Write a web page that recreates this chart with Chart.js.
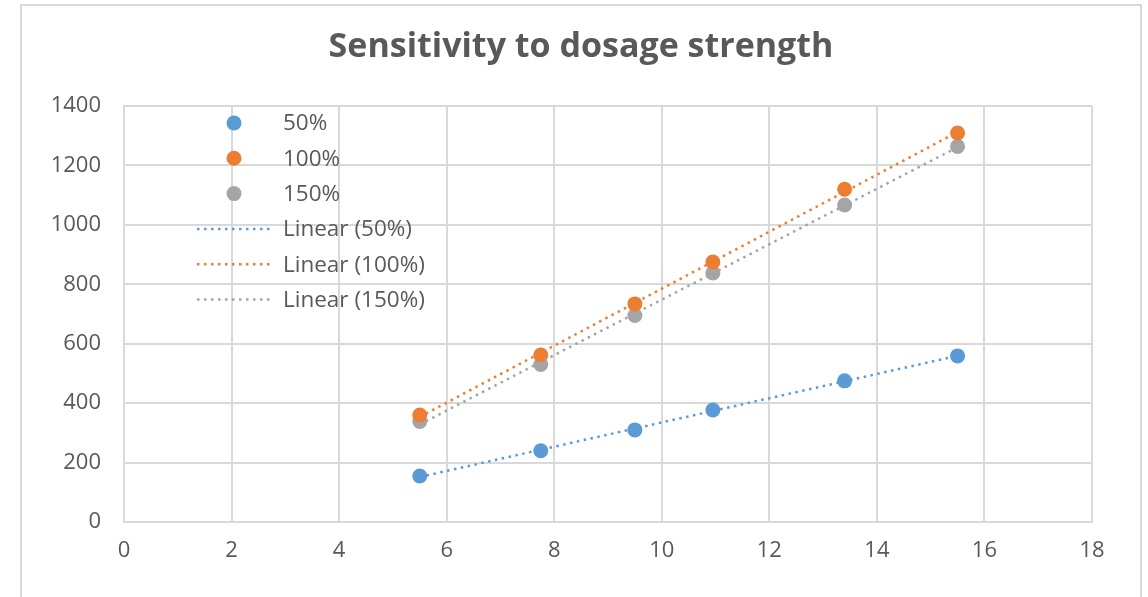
<!DOCTYPE html>
<html>
<head>
<meta charset="utf-8">
<script src="https://cdn.jsdelivr.net/npm/chart.js@4"></script>
<style>
html,body{margin:0;padding:0;background:#fff;}
#wrap{width:1148px;height:597px;position:relative;}
</style>
</head>
<body>
<div id="wrap"><canvas id="c" width="1148" height="597"></canvas></div>
<script>
// ---- data ----
const titleText = "Sensitivity to dosage strength";
const xValues = [5.5, 7.75, 9.5, 10.95, 13.4, 15.5];
const series50 = [155, 240, 310, 377, 475, 559];
const series100 = [360, 562, 734, 875, 1120, 1309];
const series150 = [338, 530, 695, 838, 1067, 1264];
const seriesLabels = ["50%", "100%", "150%"];
const trendLabels = ["Linear (50%)", "Linear (100%)", "Linear (150%)"];
const xTicks = [0, 2, 4, 6, 8, 10, 12, 14, 16, 18];
const yTicks = [0, 200, 400, 600, 800, 1000, 1200, 1400];

const colors = ["#5B9BD5", "#ED7D31", "#A5A5A5"];
const allSeries = [series50, series100, series150];

function pts(ys){ return xValues.map((x,i)=>({x:x, y:ys[i]})); }
function trend(ys){
  const n = xValues.length;
  let sx=0, sy=0, sxx=0, sxy=0;
  for(let i=0;i<n;i++){ sx+=xValues[i]; sy+=ys[i]; sxx+=xValues[i]*xValues[i]; sxy+=xValues[i]*ys[i]; }
  const b = (n*sxy - sx*sy)/(n*sxx - sx*sx);
  const a = (sy - b*sx)/n;
  const x0 = Math.min(...xValues), x1 = Math.max(...xValues);
  return [{x:x0, y:a+b*x0}, {x:x1, y:a+b*x1}];
}

const datasets = [];
allSeries.forEach((s,i)=>{
  datasets.push({
    type:'scatter', label: seriesLabels[i], data: pts(s),
    backgroundColor: colors[i], borderColor: colors[i],
    pointRadius: 7.5, pointHoverRadius: 7.5, borderWidth: 0, order: 2
  });
});
allSeries.forEach((s,i)=>{
  datasets.push({
    type:'line', label: trendLabels[i], data: trend(s),
    borderColor: colors[i], backgroundColor: colors[i],
    borderWidth: 2.5, borderDash: [2.5, 4.5], pointRadius: 0, fill:false, order: 1
  });
});

const fontFamily = "'Open Sans', sans-serif";
const textColor = "#595959";
const gridColor = "#d9d9d9";

const frame = {
  id: 'frame',
  beforeDraw(chart){
    const ctx = chart.ctx;
    ctx.save();
    ctx.fillStyle = '#fff';
    ctx.fillRect(0,0,chart.width,chart.height);
    ctx.strokeStyle = '#d9d9d9';
    ctx.lineWidth = 2;
    ctx.strokeRect(21, 5, 1120, 600);
    ctx.restore();
  },
  afterDraw(chart){
    // chart title, centred over the plot frame
    const ctx = chart.ctx;
    ctx.save();
    ctx.font = "700 34px " + fontFamily;
    ctx.fillStyle = textColor;
    ctx.textAlign = 'center';
    ctx.textBaseline = 'middle';
    ctx.fillText(titleText, 581, 47);
    ctx.restore();
  }
};

const insideLegend = {
  id: 'insideLegend',
  afterDatasetsDraw(chart){
    const ctx = chart.ctx, area = chart.chartArea;
    const mx = area.left + 110, tx = area.left + 159;
    let y = area.top + 17;
    ctx.save();
    ctx.font = "22.5px " + fontFamily;
    ctx.textBaseline = 'middle';
    chart.data.datasets.forEach(ds=>{
      if(ds.type === 'scatter'){
        ctx.fillStyle = ds.backgroundColor;
        ctx.beginPath(); ctx.arc(mx, y, 7.5, 0, Math.PI*2); ctx.fill();
      } else {
        ctx.strokeStyle = ds.borderColor;
        ctx.lineWidth = ds.borderWidth;
        ctx.setLineDash(ds.borderDash);
        ctx.beginPath(); ctx.moveTo(mx-37, y); ctx.lineTo(mx+36, y); ctx.stroke();
        ctx.setLineDash([]);
      }
      ctx.fillStyle = textColor;
      ctx.fillText(ds.label, tx, y+1);
      y += 35.3;
    });
    ctx.restore();
  }
};

new Chart(document.getElementById('c'), {
  type: 'scatter',
  data: { datasets },
  plugins: [frame, insideLegend],
  options: {
    responsive: false,
    animation: false,
    layout: { padding: { left: 20, right: 56, top: 106, bottom: 0 } },
    plugins: {
      legend: { display: false },
      tooltip: { enabled: false },
      title: { display: false }
    },
    scales: {
      x: {
        type: 'linear', min: 0, max: 18,
        afterBuildTicks(s){ s.ticks = xTicks.map(v=>({value:v})); },
        afterFit(s){ s.height = 75; },
        ticks: { color: textColor, font: { family: fontFamily, size: 22 }, padding: 16,
                 callback: v => String(v) },
        grid: { color: gridColor, lineWidth: 2, drawTicks: false },
        border: { color: gridColor, width: 2 }
      },
      y: {
        type: 'linear', min: 0, max: 1400,
        afterBuildTicks(s){ s.ticks = yTicks.map(v=>({value:v})); },
        afterFit(s){ s.width = 104; },
        ticks: { color: textColor, font: { family: fontFamily, size: 22 }, padding: 23,
                 callback: v => String(v) },
        grid: { color: gridColor, lineWidth: 2, drawTicks: false },
        border: { color: gridColor, width: 2 }
      }
    }
  }
});
</script>
</body>
</html>
